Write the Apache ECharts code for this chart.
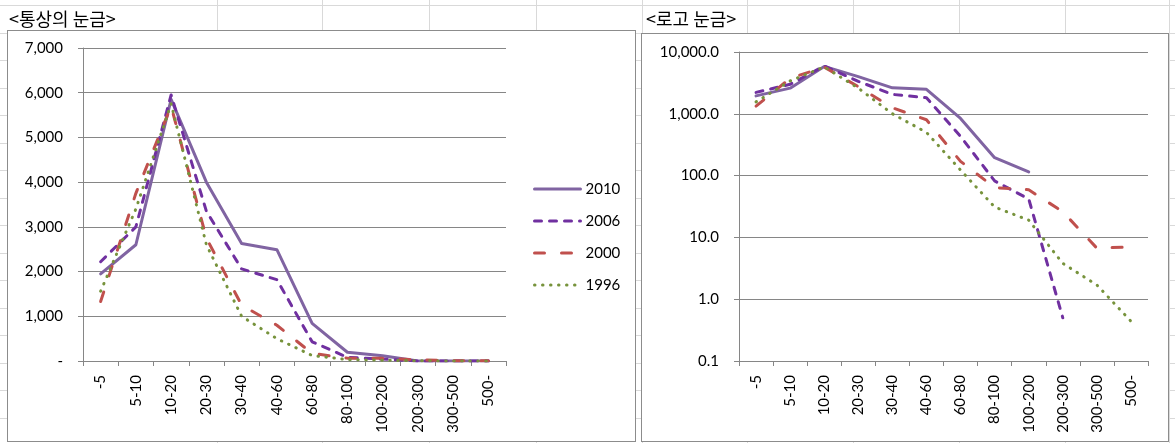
<!DOCTYPE html>
<html>
<head>
<meta charset="utf-8">
<title>통상의 눈금 / 로그 눈금</title>
<script src="https://cdn.jsdelivr.net/npm/echarts@6/dist/echarts.min.js"></script>
<style>
  html, body { margin: 0; padding: 0; background: #fff; }
  #sheet { position: absolute; left: 0; top: 0; width: 1175px; height: 443px; overflow: hidden; }
  .col { position: absolute; top: 0; width: 1px; height: 443px; background: #d9d9d9; }
  .row { position: absolute; left: 0; width: 1175px; height: 1px; background: #d9d9d9; }
  .frame { position: absolute; background: #fff; border: 1px solid #8c8c8c; box-sizing: border-box; }
  #main { position: absolute; left: 0; top: 0; width: 1175px; height: 443px; }
</style>
</head>
<body>
<div id="sheet"></div>
<div id="main"></div>
<script>
// size classes (x axis)
const categories = ['-5', '5-10', '10-20', '20-30', '30-40', '40-60', '60-80', '80-100', '100-200', '200-300', '300-500', '500-']
const years = ['2010', '2006', '2000', '1996']

// counts per size class
const v2010 = [1950, 2600, 5850, 4000, 2630, 2490, 840, 195, 115, 0, 0, 0]
const v2006 = [2220, 3000, 5950, 3350, 2060, 1820, 430, 82, 42, 0.5, 0, 0]
const v2000 = [1330, 3750, 5700, 2750, 1250, 800, 170, 64, 59, 26, 6.7, 7.0]
const v1996 = [1560, 3400, 5750, 2600, 1000, 500, 123, 31, 19, 3.8, 1.7, 0.44]

// axis ranges
const linearMax = 7000
const linearStep = 1000
const logMin = 0.1
const logMax = 10000

// spreadsheet background (cell borders + chart frames)
const sheet = document.getElementById('sheet')
const colX = [217, 322, 429, 536, 642, 747, 853, 959, 1065, 1169]
colX.forEach(x => {
  const d = document.createElement('div')
  d.className = 'col'
  d.style.left = x + 'px'
  sheet.appendChild(d)
})
for (let y = 5; y < 443; y += 27.5) {
  const d = document.createElement('div')
  d.className = 'row'
  d.style.top = Math.round(y) + 'px'
  sheet.appendChild(d)
}
;[[7, 30, 629, 412], [641, 33, 528, 409]].forEach(([l, t, w, h]) => {
  const d = document.createElement('div')
  d.className = 'frame'
  Object.assign(d.style, { left: l + 'px', top: t + 'px', width: w + 'px', height: h + 'px' })
  sheet.appendChild(d)
})

const colors = { '2010': '#8064A2', '2006': '#7030A0', '2000': '#C0504D', '1996': '#77933C' }
const dashes = { '2010': 'solid', '2006': [7, 8], '2000': [10, 17], '1996': [0.5, 7.5] }
const values = { '2010': v2010, '2006': v2006, '2000': v2000, '1996': v1996 }

const gridColor = '#868686'
const font = 'Lato, "Open Sans", sans-serif'
const titleFont = { fontFamily: '"Noto Sans CJK KR"', fontSize: 18, fontWeight: 'normal', color: '#000' }

function xAxis(gridIndex) {
  return {
    type: 'category',
    gridIndex,
    data: categories,
    boundaryGap: true,
    axisLine: { lineStyle: { color: gridColor, width: 1 } },
    axisTick: { show: true, length: 5, lineStyle: { color: gridColor } },
    axisLabel: { rotate: 90, margin: 14, interval: 0, fontFamily: font, fontSize: 15, color: '#000' },
  }
}

const series = []
years.forEach(y => {
  const lineStyle = { color: colors[y], width: 3, type: dashes[y], cap: 'round', join: 'round' }
  series.push({
    name: y, type: 'line', xAxisIndex: 0, yAxisIndex: 0,
    data: values[y], symbol: 'none', lineStyle, itemStyle: { color: colors[y] },
  })
  series.push({
    name: y, type: 'line', xAxisIndex: 1, yAxisIndex: 1,
    data: values[y].map(v => (v > 0 ? v : null)), symbol: 'none', lineStyle, itemStyle: { color: colors[y] },
  })
})

const chart = echarts.init(document.getElementById('main'), null, { renderer: 'canvas' })
chart.setOption({
  animation: false,
  title: [
    { text: '<통상의 눈금>', left: 9, top: 10, padding: 0, textStyle: titleFont },
    { text: '<로고 눈금>', left: 646, top: 10, padding: 0, textStyle: titleFont },
  ],
  legend: {
    data: years,
    orient: 'vertical',
    left: 533,
    top: 181,
    padding: 0,
    itemWidth: 46,
    itemHeight: 14,
    itemGap: 16,
    itemStyle: { opacity: 0 },
    lineStyle: { width: 3 },
    textStyle: { fontFamily: font, fontSize: 15, color: '#000', lineHeight: 16 },
  },
  grid: [
    { left: 83, top: 48, width: 423, height: 313 },
    { left: 739, top: 52, width: 409, height: 309 },
  ],
  xAxis: [xAxis(0), xAxis(1)],
  yAxis: [
    {
      type: 'value', gridIndex: 0, min: 0, max: linearMax, interval: linearStep,
      axisLine: { show: true, lineStyle: { color: gridColor } },
      axisTick: { show: true, length: 5, lineStyle: { color: gridColor } },
      splitLine: { lineStyle: { color: gridColor } },
      axisLabel: {
        margin: 20, fontFamily: font, fontSize: 15, color: '#000',
        formatter: v => (v === 0 ? '-' : v.toLocaleString('en-US')),
      },
    },
    {
      type: 'log', logBase: 10, gridIndex: 1, min: logMin, max: logMax,
      axisLine: { show: true, lineStyle: { color: gridColor } },
      axisTick: { show: true, length: 5, lineStyle: { color: gridColor } },
      splitLine: { lineStyle: { color: gridColor } },
      axisLabel: {
        margin: 20, fontFamily: font, fontSize: 15, color: '#000',
        formatter: v => Number(v).toLocaleString('en-US', { minimumFractionDigits: 1, maximumFractionDigits: 1 }),
      },
    },
  ],
  series,
})
</script>
</body>
</html>
